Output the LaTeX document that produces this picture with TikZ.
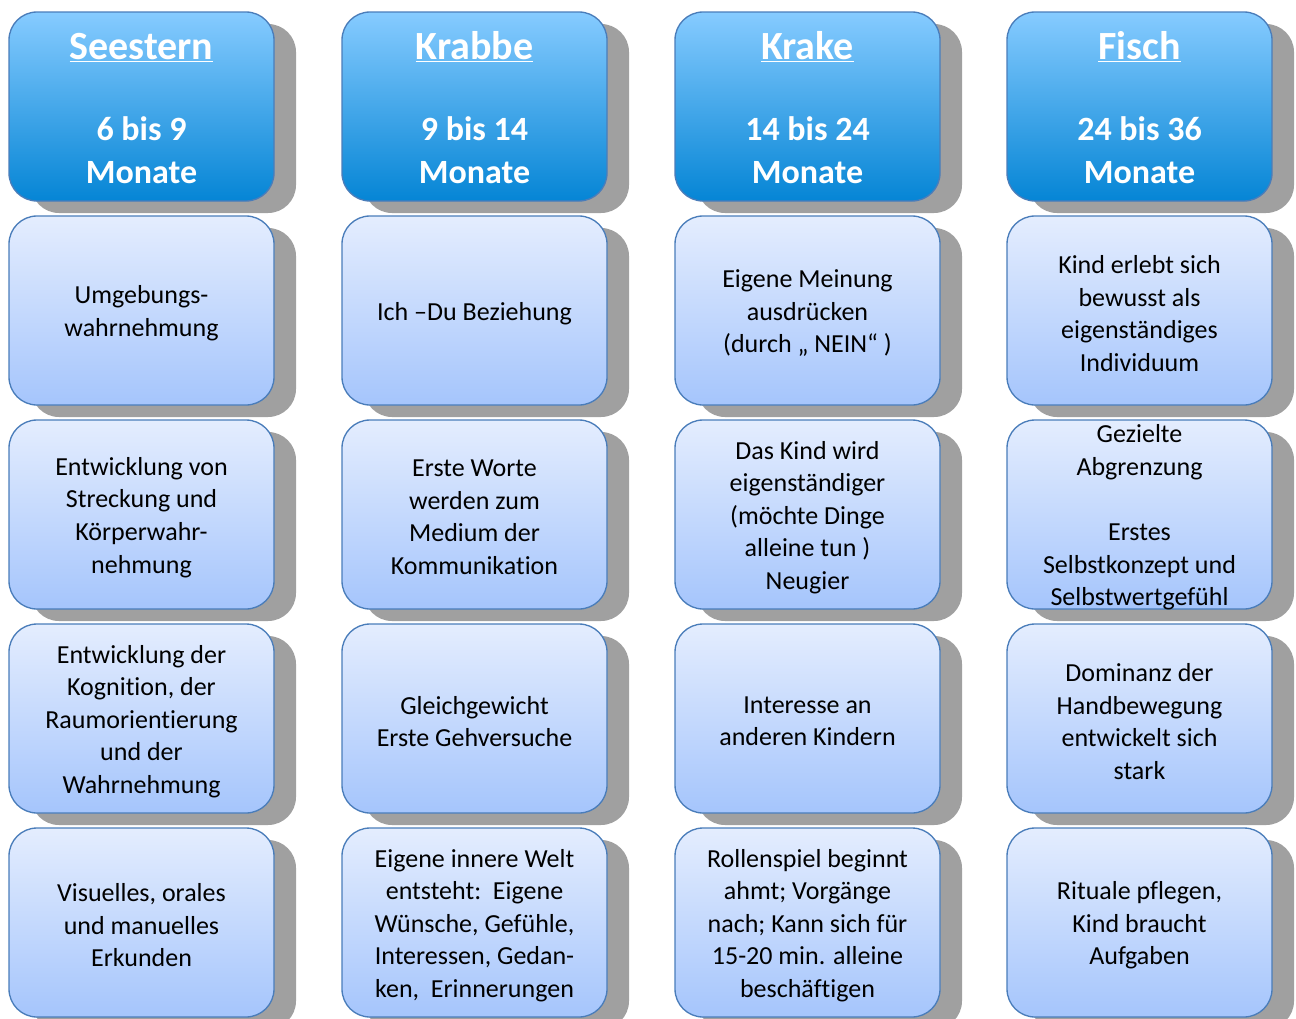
\documentclass[tikz,border=0pt]{standalone}
\usepackage{fontspec}
\setmainfont{Carlito}[Ligatures=NoCommon]
\usetikzlibrary{shadows}
\definecolor{bordercol}{HTML}{4A7DBA}
\definecolor{htop}{HTML}{86CBFF}
\definecolor{hbot}{HTML}{0585D5}
\definecolor{ctop}{HTML}{E4EDFE}
\definecolor{cbot}{HTML}{A5C5FC}
\definecolor{shadowgray}{HTML}{A0A0A0}
\tikzset{
  basebox/.style={draw=bordercol, line width=1pt, rounded corners=21pt,
    minimum width=198.75pt, minimum height=141.75pt, inner sep=0pt,
    drop shadow={shadow xshift=16.5pt, shadow yshift=-9pt, fill=shadowgray, opacity=1}},
  hbox/.style={basebox, top color=htop, bottom color=hbot},
  cbox/.style={basebox, top color=ctop, bottom color=cbot},
  htitle/.style={anchor=base, inner sep=0pt, text=white, font=\fontsize{30}{36}\selectfont\bfseries},
  htxt/.style={anchor=base, inner sep=0pt, text=white, font=\fontsize{25.5}{32.3}\selectfont\bfseries},
  ctxt/.style={align=center, inner sep=0pt, yshift=-2.2pt, text=black, font=\fontsize{19.5}{24.4}\selectfont},
}
\begin{document}
\begin{tikzpicture}[x=0.75pt, y=-0.75pt]
\useasboundingbox (0,0) rectangle (1296,1018);
\fill[white] (0,0) rectangle (1296,1018);
% header row
\node[hbox] (h1) at (141.5,106.5) {};
\node[hbox] (h2) at (474.5,106.5) {};
\node[hbox] (h3) at (807.5,106.5) {};
\node[hbox] (h4) at (1139.5,106.5) {};
\node[htitle] (th1a) at (141.5,59.5) {\underline{Seestern}};
\node[htitle] (th2a) at (474.5,59.5) {\underline{Krabbe}};
\node[htitle] (th3a) at (807.5,59.5) {\underline{Krake}};
\node[htitle] (th4a) at (1139.5,59.5) {\underline{Fisch}};
\node[htxt] (th1b) at (141.5,140) {6 bis 9};
\node[htxt] (th2b) at (474.5,140) {9 bis 14};
\node[htxt] (th3b) at (807.5,140) {14 bis 24};
\node[htxt] (th4b) at (1139.5,140) {24 bis 36};
\node[htxt] (th1c) at (141.5,183) {Monate};
\node[htxt] (th2c) at (474.5,183) {Monate};
\node[htxt] (th3c) at (807.5,183) {Monate};
\node[htxt] (th4c) at (1139.5,183) {Monate};
% row 2
\node[cbox] (b12) at (141.5,310.5) {};
\node[cbox] (b22) at (474.5,310.5) {};
\node[cbox] (b32) at (807.5,310.5) {};
\node[cbox] (b42) at (1139.5,310.5) {};
\node[ctxt] (t12) at (b12.center) {Umgebungs-\\wahrnehmung};
\node[ctxt] (t22) at (b22.center) {Ich –Du Beziehung};
\node[ctxt] (t32) at (b32.center) {Eigene Meinung\\ausdrücken\\(durch „ NEIN“ )};
\node[ctxt] (t42) at (b42.center) {Kind erlebt sich\\bewusst als\\eigenständiges\\Individuum};
% row 3
\node[cbox] (b13) at (141.5,514.5) {};
\node[cbox] (b23) at (474.5,514.5) {};
\node[cbox] (b33) at (807.5,514.5) {};
\node[cbox] (b43) at (1139.5,514.5) {};
\node[ctxt] (t13) at (b13.center) {Entwicklung von\\Streckung und\\Körperwahr-\\nehmung};
\node[ctxt] (t23) at (b23.center) {Erste Worte\\werden zum\\Medium der\\Kommunikation};
\node[ctxt] (t33) at (b33.center) {Das Kind wird\\eigenständiger\\(möchte Dinge\\alleine tun )\\Neugier};
\node[ctxt] (t43) at (b43.center) {Gezielte\\Abgrenzung\\[24.4pt]Erstes\\Selbstkonzept und\\Selbstwertgefühl};
% row 4
\node[cbox] (b14) at (141.5,718.5) {};
\node[cbox] (b24) at (474.5,718.5) {};
\node[cbox] (b34) at (807.5,718.5) {};
\node[cbox] (b44) at (1139.5,718.5) {};
\node[ctxt] (t14) at (b14.center) {Entwicklung der\\Kognition, der\\Raumorientierung\\und der\\Wahrnehmung};
\node[ctxt] (t24) at (b24.center) {Gleichgewicht\\Erste Gehversuche};
\node[ctxt] (t34) at (b34.center) {Interesse an\\anderen Kindern};
\node[ctxt] (t44) at (b44.center) {Dominanz der\\Handbewegung\\entwickelt sich\\stark};
% row 5
\node[cbox] (b15) at (141.5,922.5) {};
\node[cbox] (b25) at (474.5,922.5) {};
\node[cbox] (b35) at (807.5,922.5) {};
\node[cbox] (b45) at (1139.5,922.5) {};
\node[ctxt] (t15) at (b15.center) {Visuelles, orales\\und manuelles\\Erkunden};
\node[ctxt] (t25) at (b25.center) {Eigene innere Welt\\entsteht:\ \ Eigene\\Wünsche, Gefühle,\\Interessen, Gedan-\\ken,\ \ Erinnerungen};
\node[ctxt] (t35) at (b35.center) {Rollenspiel beginnt\\ahmt; Vorgänge\\nach; Kann sich für\\15-20 min. alleine\\beschäftigen};
\node[ctxt] (t45) at (b45.center) {Rituale pflegen,\\Kind braucht\\Aufgaben};
\end{tikzpicture}
\end{document}
